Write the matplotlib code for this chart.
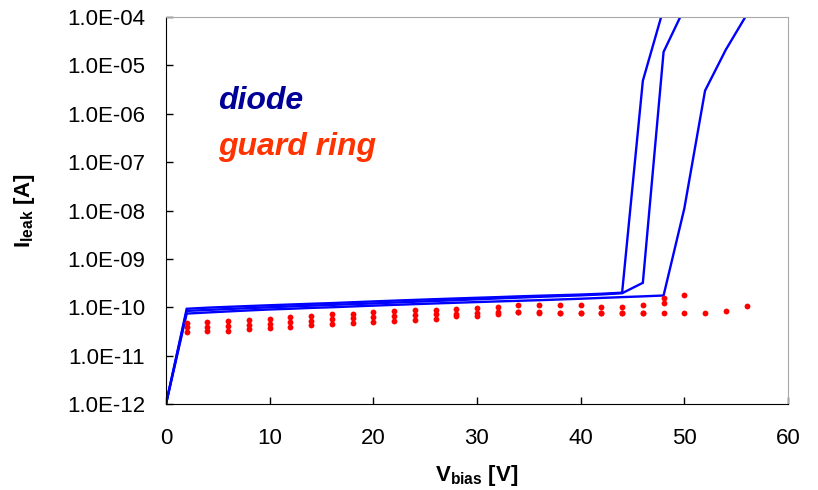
import matplotlib
matplotlib.use("Agg")
import numpy as np
import matplotlib.pyplot as plt
from matplotlib.ticker import FuncFormatter, LogLocator, NullLocator

plt.rcParams["font.family"] = ["Liberation Sans", "DejaVu Sans"]
plt.rcParams["mathtext.fontset"] = "custom"
plt.rcParams["mathtext.rm"] = "Liberation Sans"
plt.rcParams["mathtext.bf"] = "Liberation Sans:bold"

# diode I-V curves (three samples)
v_a = [0, 2, 4, 6, 8, 10, 12, 14, 16, 18, 20, 22, 24, 26, 28, 30, 32, 34, 36, 38, 40, 42, 44, 46, 48]
i_a = [1e-12, 9.3e-11, 9.8e-11, 1.02e-10, 1.06e-10, 1.10e-10, 1.14e-10, 1.18e-10, 1.22e-10,
       1.27e-10, 1.32e-10, 1.37e-10, 1.42e-10, 1.47e-10, 1.52e-10, 1.57e-10, 1.62e-10, 1.68e-10,
       1.73e-10, 1.78e-10, 1.83e-10, 1.90e-10, 2.0e-10, 4.8e-6, 1.5e-4]

v_b = [0, 2, 4, 6, 8, 10, 12, 14, 16, 18, 20, 22, 24, 26, 28, 30, 32, 34, 36, 38, 40, 42, 44, 46, 48, 50]
i_b = [1e-12, 8.4e-11, 8.8e-11, 9.2e-11, 9.6e-11, 1.0e-10, 1.04e-10, 1.08e-10, 1.12e-10,
       1.16e-10, 1.2e-10, 1.25e-10, 1.30e-10, 1.35e-10, 1.40e-10, 1.46e-10, 1.52e-10, 1.58e-10,
       1.64e-10, 1.70e-10, 1.76e-10, 1.84e-10, 1.95e-10, 3.2e-10, 1.9e-5, 1.5e-4]

v_c = [0, 2, 4, 6, 8, 10, 12, 14, 16, 18, 20, 22, 24, 26, 28, 30, 32, 34, 36, 38, 40, 42, 44, 46, 48,
       50, 52, 54, 56]
i_c = [1e-12, 7.4e-11, 7.8e-11, 8.2e-11, 8.6e-11, 9.0e-11, 9.3e-11, 9.7e-11, 1.0e-10,
       1.04e-10, 1.08e-10, 1.12e-10, 1.16e-10, 1.20e-10, 1.24e-10, 1.28e-10, 1.32e-10, 1.36e-10,
       1.40e-10, 1.45e-10, 1.50e-10, 1.56e-10, 1.62e-10, 1.68e-10, 1.75e-10,
       1.1e-8, 3.0e-6, 2.1e-5, 1.1e-4]

# guard ring currents (three samples)
v_g = [2, 4, 6, 8, 10, 12, 14, 16, 18, 20, 22, 24, 26, 28, 30, 32, 34, 36, 38, 40, 42, 44, 46, 48,
       50, 52, 54, 56]
g_1 = [4.8e-11, 5.0e-11, 5.1e-11, 5.5e-11, 5.7e-11, 6.2e-11, 6.6e-11, 7.1e-11, 7.4e-11, 7.8e-11,
       8.2e-11, 8.6e-11, 8.7e-11, 9.2e-11, 9.5e-11, 1.0e-10, 1.1e-10, 1.1e-10, 1.1e-10, 1.1e-10,
       1.03e-10, 1.03e-10, 1.1e-10, 1.55e-10, 1.75e-10, np.nan, np.nan, 1.07e-10]
g_2 = [3.9e-11, 4.0e-11, 4.1e-11, 4.3e-11, 4.6e-11, 4.9e-11, 5.2e-11, 5.7e-11, 6.0e-11, 6.3e-11,
       6.6e-11, 6.9e-11, 7.1e-11, 7.2e-11, 7.5e-11, 7.8e-11, 7.9e-11, 7.8e-11, 7.7e-11, 7.7e-11,
       7.7e-11, 7.7e-11, 7.7e-11, 1.2e-10, 7.7e-11, 7.7e-11, 8.2e-11, np.nan]
g_3 = [3.1e-11, 3.2e-11, 3.3e-11, 3.5e-11, 3.7e-11, 4.0e-11, 4.3e-11, 4.6e-11, 4.8e-11, 5.0e-11,
       5.2e-11, 5.5e-11, 5.8e-11, 6.6e-11, 6.7e-11, 7.1e-11, 7.8e-11, 7.6e-11, 7.6e-11, 7.6e-11,
       7.6e-11, 7.6e-11, 7.6e-11, 7.7e-11, np.nan, np.nan, np.nan, np.nan]

fig = plt.figure(figsize=(8.18, 4.9), dpi=100)
ax = fig.add_axes([0.2029, 0.1755, 0.7604, 0.7898])

for v, i in [(v_a, i_a), (v_b, i_b), (v_c, i_c)]:
    ax.plot(v, i, color="#0000FF", lw=1.7, solid_joinstyle="miter")

for g in [g_1, g_2, g_3]:
    ax.plot(v_g, g, ls="none", marker="o", ms=4.2, color="#FF0000", mec="none")

ax.set_yscale("log")
ax.set_xlim(0, 60)
ax.set_ylim(1e-12, 1e-4)
ax.set_xticks(range(0, 61, 10))
ax.yaxis.set_major_locator(LogLocator(base=10, numticks=20))
ax.yaxis.set_minor_locator(NullLocator())
ax.yaxis.set_major_formatter(FuncFormatter(lambda y, p: "1.0E-%02d" % round(-np.log10(y))))

ax.tick_params(direction="in", length=5, width=1, labelsize=16)
ax.tick_params(axis="y", pad=15)
ax.tick_params(axis="x", pad=17)

for s in ["top", "right"]:
    ax.spines[s].set_color("#A8A8A8")
for s in ["left", "bottom"]:
    ax.spines[s].set_color("black")

ax.set_xlabel(r"$\mathbf{V_{bias}}$ [V]", fontsize=16, fontweight="bold")
ax.set_ylabel(r"$\mathbf{I_{leak}}$ [A]", fontsize=16, fontweight="bold")
ax.xaxis.set_label_coords(0.5, -0.152)
ax.yaxis.set_label_coords(-0.207, 0.5)

ax.text(0.084, 0.762, "diode", transform=ax.transAxes, fontsize=23, fontweight="bold",
        fontstyle="italic", color="#000099")
ax.text(0.084, 0.643, "guard ring", transform=ax.transAxes, fontsize=23, fontweight="bold",
        fontstyle="italic", color="#FF3300")

fig.savefig("out.png", dpi=100)
